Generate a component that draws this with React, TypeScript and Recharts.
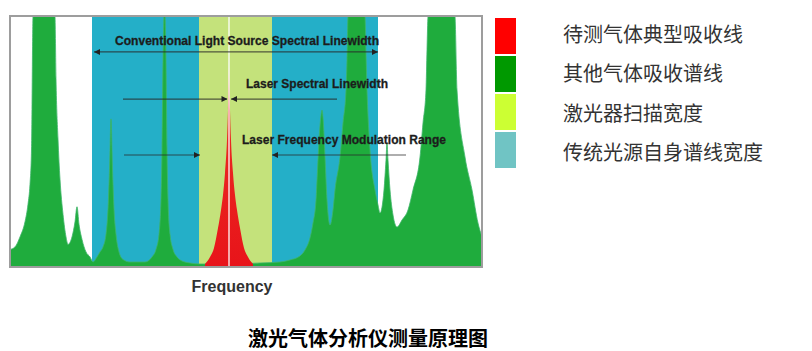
import { ComposedChart, Area, XAxis, YAxis, ReferenceLine, ReferenceDot, ReferenceArea } from 'recharts'

// relative frequency (0..472) and absorption (0..100, peaks above 100 run off the frame)
const otherGasFreq = [
  0, 5, 10, 15, 18, 20, 21.5, 23, 34, 45, 46, 48, 50, 53, 56, 58, 62, 65, 67, 69, 72, 76, 80, 83, 87, 90, 93,
  96, 98, 99.5, 101, 102.5, 104, 106, 109, 113, 120, 135, 142, 146, 149, 151, 152, 153, 154.5, 156, 157, 158,
  160, 163, 167, 172, 180, 190, 220, 250, 270, 280, 290, 295, 300, 303, 306, 307.5, 309, 310.5, 312, 313.5, 315, 317,
  320, 323, 325, 330, 333, 336, 337, 338, 347, 355, 357, 360, 365, 368, 370, 374, 376, 377, 378, 380, 383, 387,
  392, 398, 403, 410, 413, 416, 417, 418, 431, 445, 447, 455, 462, 468, 472,
]
const otherGasAbs = [
  7, 8, 12, 18, 25, 33, 47, 100, 140, 100, 75, 51, 35, 21, 12, 9, 12, 18, 24, 17, 11, 6, 4, 2, 4, 6, 8,
  13, 23, 39, 59, 39, 23, 13, 6, 3, 2, 2, 4, 7, 13, 27, 47, 82, 104, 82, 47, 27,
  13, 7, 4, 2.4, 1.6, 1.2, 1.2, 1.6, 2, 2.8, 4.4, 6.8, 11.6, 17.5, 26.7, 38.6, 50.6, 58.6, 62.5, 56.6, 43.8, 26.7,
  16.7, 22.7, 30.7, 43.8, 57.4, 70.5, 82.5, 100, 130, 100, 70.5, 46.6, 30.7, 24.7, 21.5, 30.7, 42.6, 49.4, 42.6, 30.7, 20.7, 15.9,
  18.7, 22.7, 30.7, 43.8, 57.4, 70.5, 86.5, 100, 135, 100, 70.5, 43.8, 30.7, 17.5, 12,
]

const targetFreq = [195, 200, 204, 208, 211, 213, 215, 217, 218, 219, 220, 221, 223, 225, 227, 230, 234, 238, 243]
const targetAbs = [1.2, 4, 7.6, 15.5, 22.7, 28.7, 37.5, 50.6, 62.5, 79.3, 62.5, 50.6, 37.5, 28.7, 22.7, 15.5, 7.6, 4, 1.2]

const sourceBand = [82, 368]
const laserScanBand = [189, 262]
const laserCenter = 219

const legendLabels = ['待测气体典型吸收线', '其他气体吸收谱线', '激光器扫描宽度', '传统光源自身谱线宽度']
const legendColors = ['#ff0000', '#009900', '#ccff33', '#70c4c4']

const otherGasData = otherGasFreq.map((x, i) => ({ x, v: otherGasAbs[i] }))
const targetData = targetFreq.map((x, i) => ({ x, v: targetAbs[i] }))
const sourceData = sourceBand.map((x) => ({ x, v: 100 }))
const scanData = laserScanBand.map((x) => ({ x, v: 100 }))

const arrowColor = 'rgba(40,40,40,0.75)'
const labelFont = '"Liberation Sans", Arial, sans-serif'

const arrowHead = (dir: 'left' | 'right') => (props: any) => {
  const { cx, cy } = props
  const d = dir === 'right' ? -6 : 6
  return <polygon points={`${cx},${cy} ${cx + d},${cy - 3} ${cx + d},${cy + 3}`} fill="#222" />
}

const textAt = (value: string, anchor: 'start' | 'middle', length: number) => (props: any) => (
  <text
    x={props.cx}
    y={props.cy}
    textAnchor={anchor}
    dominantBaseline="central"
    fontFamily={labelFont}
    fontWeight="bold"
    fontSize={13}
    textLength={length}
    lengthAdjust="spacingAndGlyphs"
    fill="#1c1c1c"
    stroke="#1c1c1c"
    strokeWidth={0.3}
  >
    {value}
  </text>
)

export default function App() {
  return (
    <div style={{ position: 'relative', width: 804, height: 343 }}>
      <ComposedChart width={490} height={300} margin={{ top: 8, right: 16, bottom: 41, left: 2 }}>
        <defs>
          <linearGradient id="targetFill" x1="0" y1="0" x2="0" y2="1">
            <stop offset="0%" stopColor="#f6c6bd" />
            <stop offset="22%" stopColor="#ea2b22" />
            <stop offset="100%" stopColor="#e8141a" />
          </linearGradient>
        </defs>
        <XAxis type="number" dataKey="x" domain={[0, 472]} hide allowDataOverflow />
        <YAxis type="number" domain={[0, 100]} hide allowDataOverflow />
        <Area data={sourceData} dataKey="v" type="linear" fill="#24afc8" fillOpacity={1} stroke="none" isAnimationActive={false} />
        <Area data={scanData} dataKey="v" type="linear" fill="#c4e27b" fillOpacity={1} stroke="none" isAnimationActive={false} />
        <Area data={otherGasData} dataKey="v" type="monotone" fill="#1fac3d" fillOpacity={1} stroke="#3fb56a" strokeWidth={0.8} isAnimationActive={false} />
        <Area data={targetData} dataKey="v" type="monotone" fill="url(#targetFill)" fillOpacity={1} stroke="none" isAnimationActive={false} />
        <ReferenceLine x={laserCenter} stroke="#ffffff" strokeOpacity={0.85} strokeWidth={1.5} zIndex={900} />

        {/* conventional source linewidth */}
        <ReferenceLine segment={[{ x: 84, y: 85.7 }, { x: 368, y: 85.7 }]} stroke={arrowColor} strokeWidth={1.1} ifOverflow="visible" zIndex={900} />
        <ReferenceDot x={84} y={85.7} shape={arrowHead('left')} ifOverflow="visible" zIndex={900} />
        <ReferenceDot x={368} y={85.7} shape={arrowHead('right')} ifOverflow="visible" zIndex={900} />
        <ReferenceDot x={237} y={90.4} shape={textAt('Conventional Light Source Spectral Linewidth', 'middle', 264)} ifOverflow="visible" zIndex={900} />

        {/* laser linewidth */}
        <ReferenceLine segment={[{ x: 113, y: 66.9 }, { x: 217, y: 66.9 }]} stroke={arrowColor} strokeWidth={1.1} ifOverflow="visible" zIndex={900} />
        <ReferenceLine segment={[{ x: 221, y: 66.9 }, { x: 327, y: 66.9 }]} stroke={arrowColor} strokeWidth={1.1} ifOverflow="visible" zIndex={900} />
        <ReferenceDot x={217.5} y={66.9} shape={arrowHead('right')} ifOverflow="visible" zIndex={900} />
        <ReferenceDot x={221} y={66.9} shape={arrowHead('left')} ifOverflow="visible" zIndex={900} />
        <ReferenceDot x={236} y={73.3} shape={textAt('Laser Spectral Linewidth', 'start', 142)} ifOverflow="visible" zIndex={900} />

        {/* laser modulation range */}
        <ReferenceLine segment={[{ x: 114, y: 44.6 }, { x: 190, y: 44.6 }]} stroke={arrowColor} strokeWidth={1.1} ifOverflow="visible" zIndex={900} />
        <ReferenceLine segment={[{ x: 262, y: 44.6 }, { x: 396, y: 44.6 }]} stroke={arrowColor} strokeWidth={1.1} ifOverflow="visible" zIndex={900} />
        <ReferenceDot x={190} y={44.6} shape={arrowHead('right')} ifOverflow="visible" zIndex={900} />
        <ReferenceDot x={262} y={44.6} shape={arrowHead('left')} ifOverflow="visible" zIndex={900} />
        <ReferenceDot x={232} y={50.6} shape={textAt('Laser Frequency Modulation Range', 'start', 204)} ifOverflow="visible" zIndex={900} />

        <ReferenceArea x1={0} x2={472} y1={0} y2={100} fill="none" stroke="#9d9d9d" strokeWidth={2} ifOverflow="visible" zIndex={950} />
      </ComposedChart>

      <div
        style={{
          position: 'absolute',
          left: 224,
          top: 279,
          transform: 'translate(-50%, -50%)',
          fontFamily: labelFont,
          fontWeight: 'bold',
          fontSize: 16,
          color: '#333',
          whiteSpace: 'nowrap',
        }}
      >
        Frequency
      </div>

      {legendLabels.map((label, i) => (
        <div key={label}>
          <div
            style={{
              position: 'absolute',
              left: 487,
              top: 10 + i * 38,
              width: 21,
              height: 36,
              background: legendColors[i],
            }}
          />
          <div
            style={{
              position: 'absolute',
              left: 555,
              top: 25 + i * 39.3,
              transform: 'translateY(-50%)',
              fontFamily: '"Noto Sans CJK SC", sans-serif',
              fontSize: 20,
              color: '#333',
              whiteSpace: 'nowrap',
            }}
          >
            {label}
          </div>
        </div>
      ))}

      <div
        style={{
          position: 'absolute',
          left: 240,
          top: 329,
          transform: 'translateY(-50%)',
          fontFamily: '"Noto Sans CJK SC", serif',
          fontWeight: 'bold',
          fontSize: 20,
          color: '#000',
          whiteSpace: 'nowrap',
        }}
      >
        激光气体分析仪测量原理图
      </div>
    </div>
  )
}
